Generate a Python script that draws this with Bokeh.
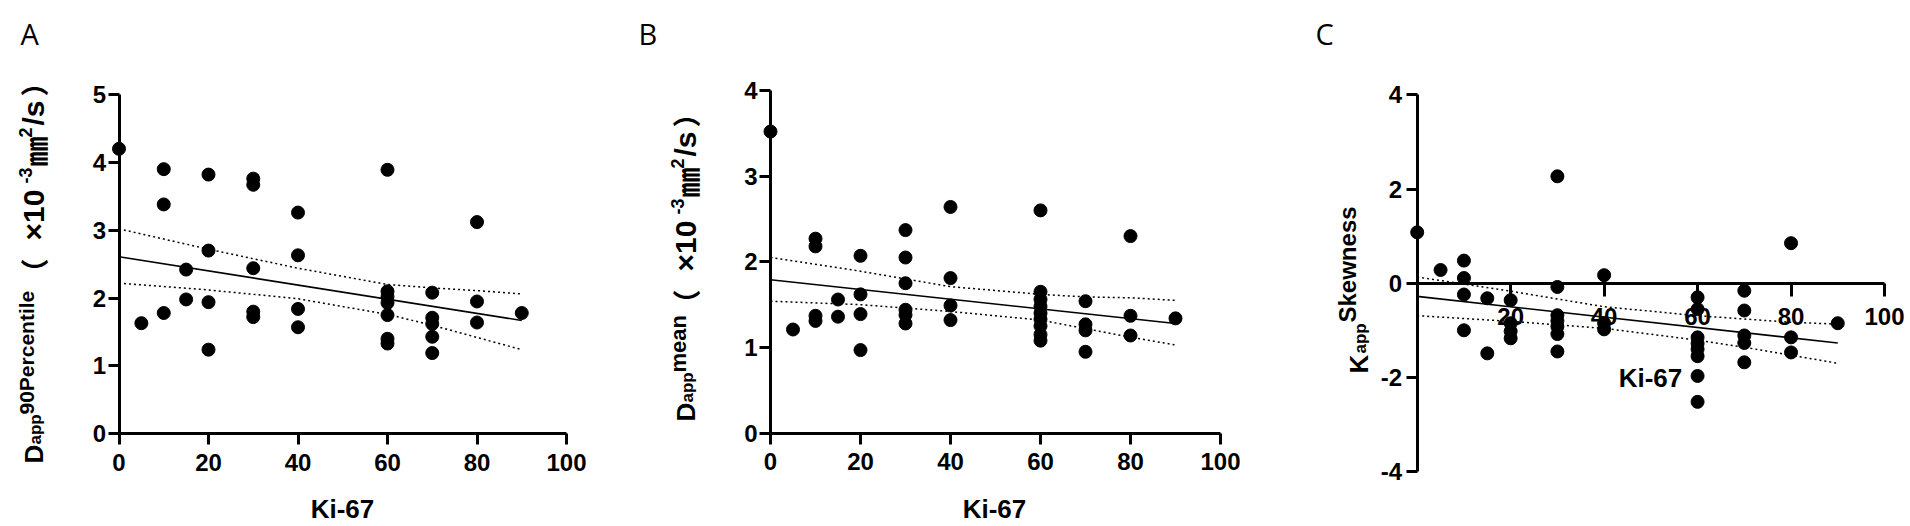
import numpy as np
from bokeh.plotting import figure
from bokeh.models import Label, Range1d, FixedTicker
from bokeh.layouts import row
from bokeh.embed import file_html
from bokeh.resources import INLINE

# ---------------- data ----------------
# Panel A : Dapp 90th percentile vs Ki-67
a_x = [0, 5, 10, 10, 10, 15, 15, 20, 20, 20, 20, 30, 30, 30, 30, 30,
       40, 40, 40, 40, 60, 60, 60, 60, 60, 60, 60, 70, 70, 70, 70, 70,
       80, 80, 80, 90]
a_y = [4.20, 1.63, 3.90, 3.38, 1.78, 2.42, 1.98, 3.82, 2.70, 1.94, 1.24,
       3.76, 3.67, 2.44, 1.80, 1.72, 3.26, 2.63, 1.84, 1.57,
       3.89, 2.10, 2.02, 1.93, 1.75, 1.40, 1.33,
       2.08, 1.71, 1.62, 1.43, 1.19, 3.12, 1.95, 1.64, 1.78]

# Panel B : Dapp mean vs Ki-67
b_x = [0, 5, 10, 10, 10, 10, 15, 15, 20, 20, 20, 20, 30, 30, 30, 30, 30, 30,
       40, 40, 40, 40, 60, 60, 60, 60, 60, 60, 60, 60, 60,
       70, 70, 70, 70, 80, 80, 80, 90]
b_y = [3.52, 1.21, 2.27, 2.18, 1.37, 1.31, 1.56, 1.36, 2.07, 1.62, 1.39, 0.97,
       2.37, 2.05, 1.75, 1.44, 1.38, 1.28, 2.64, 1.81, 1.49, 1.32,
       2.60, 1.65, 1.56, 1.48, 1.40, 1.33, 1.25, 1.15, 1.08,
       1.54, 1.27, 1.20, 0.95, 2.30, 1.37, 1.14, 1.34]

# Panel C : Kapp skewness vs Ki-67
c_x = [0, 5, 10, 10, 10, 10, 15, 15, 20, 20, 20, 20,
       30, 30, 30, 30, 30, 30, 30, 40, 40, 40,
       60, 60, 60, 60, 60, 60, 60, 60, 70, 70, 70, 70, 70,
       80, 80, 80, 90]
c_y = [1.08, 0.28, 0.48, 0.11, -0.24, -1.00, -0.32, -1.49, -0.36, -0.85, -1.02, -1.17,
       2.27, -0.08, -0.68, -0.80, -0.92, -1.08, -1.45, 0.17, -0.85, -0.98,
       -0.30, -0.55, -1.15, -1.28, -1.40, -1.55, -1.97, -2.52,
       -0.16, -0.58, -1.11, -1.27, -1.68, 0.85, -1.15, -1.47, -0.85]

# regression lines and 95% confidence bands
fit_x = [0, 90]
a_fit = [2.61, 1.67]
b_fit = [1.79, 1.28]
c_fit = [-0.28, -1.27]
ci_x = [0, 20, 40, 60, 70, 80, 90]
a_up = [3.02, 2.72, 2.44, 2.20, 2.15, 2.11, 2.06]
a_lo = [2.22, 2.12, 1.99, 1.76, 1.60, 1.42, 1.24]
b_up = [2.05, 1.89, 1.71, 1.62, 1.59, 1.58, 1.55]
b_lo = [1.54, 1.50, 1.42, 1.32, 1.22, 1.12, 1.03]
c_up = [0.13, -0.17, -0.50, -0.69, -0.76, -0.83, -0.87]
c_lo = [-0.69, -0.81, -0.96, -1.21, -1.36, -1.53, -1.70]

x_ticks = [0, 20, 40, 60, 80, 100]
a_yticks = [0, 1, 2, 3, 4, 5]
b_yticks = [0, 1, 2, 3, 4]
c_yticks = [-4, -2, 0, 2, 4]
x_title = "Ki-67"

SANS = "Liberation Sans"
CJK = "Noto Sans CJK SC"
H = 526


class Panel:
    """A figure whose frame fills the whole canvas; geo maps data -> page px."""

    def __init__(self, page_left, width, geo, ybounds):
        self.geo = geo
        x0, sx, y0, sy = geo
        fl, fr, ft, fb = page_left, page_left + width, 0, H
        self.p = figure(width=width, height=H,
                        x_range=Range1d((fl - x0) / sx, (fr - x0) / sx),
                        y_range=Range1d((y0 - fb) / sy, (y0 - ft) / sy),
                        min_border_left=0, min_border_right=0,
                        min_border_top=0, min_border_bottom=0,
                        output_backend="svg", toolbar_location=None)
        p = self.p
        p.grid.visible = False
        p.outline_line_color = None
        p.background_fill_color = "white"
        p.border_fill_color = "white"
        p.xaxis.bounds = (0, 100)
        p.yaxis.bounds = ybounds
        p.xaxis.fixed_location = 0
        p.yaxis.fixed_location = 0

    def X(self, px):
        x0, sx, y0, sy = self.geo
        return (px - x0) / sx

    def Y(self, py):
        x0, sx, y0, sy = self.geo
        return (y0 - py) / sy

    def label(self, px, py, text, size, font=SANS, style="bold", angle=0.0,
              align="left"):
        self.p.add_layout(Label(x=self.X(px), y=self.Y(py), text=text,
                                angle=angle, text_font=font,
                                text_font_style=style,
                                text_font_size=f"{size}px",
                                text_color="black", text_align=align,
                                text_baseline="alphabetic"))


def style(p, yticks, xstand, ystand, xtick_out, overrides=None):
    p.xaxis.ticker = FixedTicker(ticks=x_ticks)
    p.yaxis.ticker = FixedTicker(ticks=yticks)
    for ax in (p.xaxis[0], p.yaxis[0]):
        ax.axis_line_width = 3
        ax.axis_line_color = "black"
        ax.major_tick_line_width = 3
        ax.major_tick_line_color = "black"
        ax.major_tick_in = 0
        ax.minor_tick_line_color = None
        ax.major_label_text_font = SANS
        ax.major_label_text_font_style = "bold"
        ax.major_label_text_font_size = "24px"
        ax.major_label_text_color = "black"
    p.xaxis.major_tick_out = xtick_out
    p.yaxis.major_tick_out = 11
    p.xaxis.major_label_standoff = xstand
    p.yaxis.major_label_standoff = ystand
    if overrides:
        p.yaxis.major_label_overrides = overrides[0]
        p.xaxis.major_label_overrides = overrides[1]


def draw(p, xs, ys, fy, up, lo):
    p.line(ci_x, up, line_color="black", line_width=1.5, line_dash="2 3")
    p.line(ci_x, lo, line_color="black", line_width=1.5, line_dash="2 3")
    p.line(fit_x, fy, line_color="black", line_width=1.6)
    p.scatter(xs, ys, size=13, fill_color="black", line_color="black")


R = np.pi / 2

# ---------------- Panel A ----------------
A = Panel(0, 590, (118.5, 4.475, 433.3, 67.86), (0, 5))
style(A.p, a_yticks, 9, 2, 11)
draw(A.p, a_x, a_y, a_fit, a_up, a_lo)
A.label(20, 33, "A", 29, font="Open Sans", style="normal")
A.label(342, 508, x_title, 26, align="center")
A.label(33, 463, "D", 26, angle=R)
A.label(35, 444, "app", 17, angle=R)
A.label(26, 414, "90Percentile", 21, angle=R)
A.label(33, 286, "（", 28, font=CJK, angle=R)
A.label(33, 240, "×10", 30, angle=R)
A.label(25, 183, "-3", 18, angle=R)
A.label(33, 166, "㎜", 30, font=CJK, angle=R)
A.label(25, 137, "2", 18, angle=R)
A.label(33, 125, "/s", 30, angle=R)
A.label(33, 96, "）", 28, font=CJK, angle=R)

# ---------------- Panel B ----------------
B = Panel(590, 650, (770, 4.5, 432.7, 85.7), (0, 4))
style(B.p, b_yticks, 9, 2, 11)
draw(B.p, b_x, b_y, b_fit, b_up, b_lo)
B.label(638, 33, "B", 29, font="Open Sans", style="normal")
B.label(994, 508, x_title, 26, align="center")
B.label(685, 421, "D", 26, angle=R)
B.label(687, 402, "app", 17, angle=R)
B.label(678, 372, "mean", 22, angle=R)
B.label(685, 317, "（", 28, font=CJK, angle=R)
B.label(685, 271, "×10", 30, angle=R)
B.label(677, 214, "-3", 18, angle=R)
B.label(685, 197, "㎜", 30, font=CJK, angle=R)
B.label(677, 168, "2", 18, angle=R)
B.label(685, 156, "/s", 30, angle=R)
B.label(685, 127, "）", 28, font=CJK, angle=R)

# ---------------- Panel C ----------------
C = Panel(1240, 670, (1416.7, 4.673, 282.7, 47.09), (-4, 4))
style(C.p, c_yticks, 12, 4, 13,
      overrides=({-4: "-4", -2: "-2", 0: "0", 2: "2", 4: "4"}, {0: ""}))
draw(C.p, c_x, c_y, c_fit, c_up, c_lo)
C.label(1315, 33, "C", 29, font="Open Sans", style="normal")
C.label(1650, 377, x_title, 26, align="center")
C.label(1358, 373, "K", 26, angle=R)
C.label(1360, 353, "app", 17, angle=R)
C.label(1347, 322, "Skewness", 24, angle=R)

layout = row(A.p, B.p, C.p)
open("out.html", "w").write(file_html(layout, INLINE))
